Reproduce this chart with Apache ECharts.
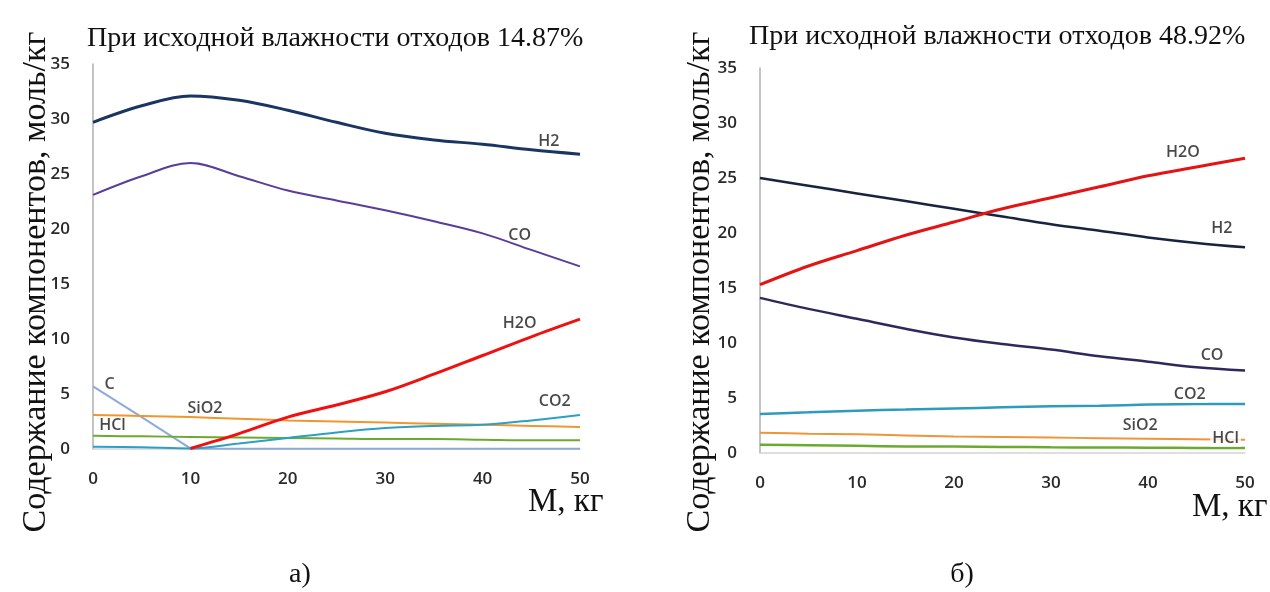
<!DOCTYPE html>
<html>
<head>
<meta charset="utf-8">
<script src="https://cdn.jsdelivr.net/npm/echarts@6/dist/echarts.min.js"></script>
<style>
html, body { margin: 0; padding: 0; background: #fff; }
#chart { width: 1270px; height: 592px; }
</style>
</head>
<body>
<div id="chart"></div>
<script>
// Mass of added waste, kg (shared x values for both panels)
const mass = [0, 5, 10, 15, 20, 25, 30, 35, 40, 45, 50];
const yTicks = [0, 5, 10, 15, 20, 25, 30, 35];
const xTicks = [0, 10, 20, 30, 40, 50];

// Panel а) — initial moisture 14.87 %
const h2A   = [29.7, 31.2, 32.1, 31.7, 30.8, 29.7, 28.7, 28.1, 27.7, 27.2, 26.8];
const coA   = [23.1, 24.8, 26.0, 24.8, 23.5, 22.6, 21.7, 20.7, 19.6, 18.1, 16.6];
const h2oA  = [null, null, 0.05, 1.4, 2.9, 4.0, 5.2, 6.8, 8.5, 10.2, 11.8];
const co2A  = [0.2, 0.15, 0.05, 0.5, 1.0, 1.5, 1.9, 2.1, 2.2, 2.6, 3.1];
const sio2A = [3.1, 3.0, 2.9, 2.75, 2.6, 2.5, 2.4, 2.3, 2.2, 2.1, 2.0];
const hclA  = [1.2, 1.15, 1.1, 1.05, 1.0, 0.95, 0.9, 0.9, 0.85, 0.8, 0.8];
const cA    = [5.7, 2.9, 0.05, 0.03, 0.03, 0.03, 0.03, 0.03, 0.03, 0.03, 0.03];

// Panel б) — initial moisture 48.92 %
const h2B   = [25.0, 24.3, 23.6, 22.9, 22.2, 21.5, 20.8, 20.2, 19.6, 19.1, 18.7];
const h2oB  = [15.3, 17.0, 18.4, 19.8, 21.0, 22.2, 23.2, 24.2, 25.2, 26.0, 26.8];
const coB   = [14.1, 13.1, 12.2, 11.3, 10.5, 9.9, 9.4, 8.8, 8.3, 7.8, 7.5];
const co2B  = [3.55, 3.7, 3.85, 3.95, 4.05, 4.15, 4.25, 4.3, 4.4, 4.45, 4.45];
const sio2B = [1.85, 1.75, 1.7, 1.6, 1.5, 1.45, 1.4, 1.35, 1.3, 1.25, 1.2];
const hclB  = [0.75, 0.7, 0.65, 0.6, 0.58, 0.55, 0.52, 0.5, 0.48, 0.46, 0.45];

// Curve name labels: [x, y, text]
const labelsA = [[46.8, 28.0, 'H2'], [43.8, 19.4, 'CO'], [43.8, 11.4, 'H2O'], [47.4, 4.3, 'CO2'],
                 [11.5, 3.7, 'SiO2'], [2.0, 2.1, 'HCl'], [1.7, 5.9, 'C']];
const labelsB = [[43.6, 27.3, 'H2O'], [47.6, 20.4, 'H2'], [46.6, 8.9, 'CO'], [44.3, 5.3, 'CO2'],
                 [39.2, 2.5, 'SiO2'], [48.0, 1.3, 'HCl']];

const titleA = 'При исходной влажности отходов 14.87%';
const titleB = 'При исходной влажности отходов 48.92%';
const yName = 'Содержание компонентов, моль/кг';
const xName = 'М, кг';

const serif = '"Liberation Serif", "DejaVu Serif", serif';
const sans = '"Open Sans", "Lato", sans-serif';

function pairs(ys) { return mass.map((x, i) => [x, ys[i]]); }

function line(idx, name, ys, color, width, smooth) {
  return {
    type: 'line', name: name, xAxisIndex: idx, yAxisIndex: idx,
    data: pairs(ys), showSymbol: false, smooth: smooth === undefined ? 0.35 : smooth,
    lineStyle: { color: color, width: width }, itemStyle: { color: color },
    connectNulls: false, z: 3
  };
}

function labelSeries(idx, items, boxed) {
  return {
    type: 'scatter', xAxisIndex: idx, yAxisIndex: idx, symbolSize: 0, z: 10,
    data: items.map(d => ({ value: [d[0], d[1]], name: d[2] })),
    label: {
      show: true, position: 'inside', formatter: p => p.name,
      fontFamily: sans, fontSize: 16, fontWeight: 600, color: '#1a1a1a',
      backgroundColor: boxed ? '#fff' : 'transparent', padding: boxed ? [0, 2] : 0
    },
    silent: true
  };
}

function xAxis(idx) {
  return {
    type: 'value', gridIndex: idx, min: 0, max: 50, interval: 10,
    axisLine: { show: true, lineStyle: { color: '#d4d4d4', width: 1.5 } },
    axisTick: { show: false }, splitLine: { show: false },
    axisLabel: { margin: 22, fontFamily: sans, fontSize: 17, fontWeight: 600, color: '#2a2a2a',
                 customValues: xTicks }
  };
}
function yAxis(idx) {
  return {
    type: 'value', gridIndex: idx, min: 0, max: 35, interval: 5,
    axisLine: { show: true, lineStyle: { color: '#b0b0b0', width: 1.5 } },
    axisTick: { show: false }, splitLine: { show: false },
    axisLabel: { margin: 23, fontFamily: sans, fontSize: 17, fontWeight: 600, color: '#2a2a2a',
                 customValues: yTicks }
  };
}

const chart = echarts.init(document.getElementById('chart'), null, { renderer: 'canvas' });
chart.setOption({
  backgroundColor: '#fff',
  animation: false,
  grid: [
    { left: 93, top: 64, width: 487, height: 385 },
    { left: 760, top: 68, width: 485, height: 385 }
  ],
  xAxis: [xAxis(0), xAxis(1)],
  yAxis: [yAxis(0), yAxis(1)],
  series: [
    line(0, 'C', cA, '#8eaadb', 2, false),
    line(0, 'HCl', hclA, '#6aab2f', 2),
    line(0, 'SiO2', sio2A, '#f0962e', 2),
    line(0, 'CO2', co2A, '#2e9fc4', 2),
    line(0, 'H2O', h2oA, '#f01010', 3),
    line(0, 'CO', coA, '#5a3d9a', 2),
    line(0, 'H2', h2A, '#1b3563', 3),
    labelSeries(0, labelsA, false),

    line(1, 'HCl', hclB, '#6aab2f', 2.5),
    line(1, 'SiO2', sio2B, '#ef9438', 2),
    line(1, 'CO2', co2B, '#2e9bbd', 2.5),
    line(1, 'CO', coB, '#2c2a5c', 2.5),
    line(1, 'H2', h2B, '#18243f', 2.5),
    line(1, 'H2O', h2oB, '#e41414', 3),
    labelSeries(1, labelsB, true)
  ],
  graphic: [
    { type: 'text', left: 87, top: 25, style: { text: titleA, font: '28px ' + serif, fill: '#111' } },
    { type: 'text', left: 749, top: 23, style: { text: titleB, font: '28px ' + serif, fill: '#111' } },
    { type: 'text', x: 36, y: 282, rotation: Math.PI / 2,
      style: { text: yName, font: '34px ' + serif, fill: '#111', align: 'center', verticalAlign: 'middle' } },
    { type: 'text', x: 700, y: 282, rotation: Math.PI / 2,
      style: { text: yName, font: '34px ' + serif, fill: '#111', align: 'center', verticalAlign: 'middle' } },
    { type: 'text', left: 528, top: 486, style: { text: xName, font: '33px ' + serif, fill: '#111' } },
    { type: 'text', left: 1192, top: 491, style: { text: xName, font: '33px ' + serif, fill: '#111' } },
    { type: 'text', x: 300, y: 575, style: { text: 'а)', font: '28px ' + serif, fill: '#111', align: 'center', verticalAlign: 'middle' } },
    { type: 'text', x: 962, y: 575, style: { text: 'б)', font: '28px ' + serif, fill: '#111', align: 'center', verticalAlign: 'middle' } }
  ]
});
</script>
</body>
</html>
